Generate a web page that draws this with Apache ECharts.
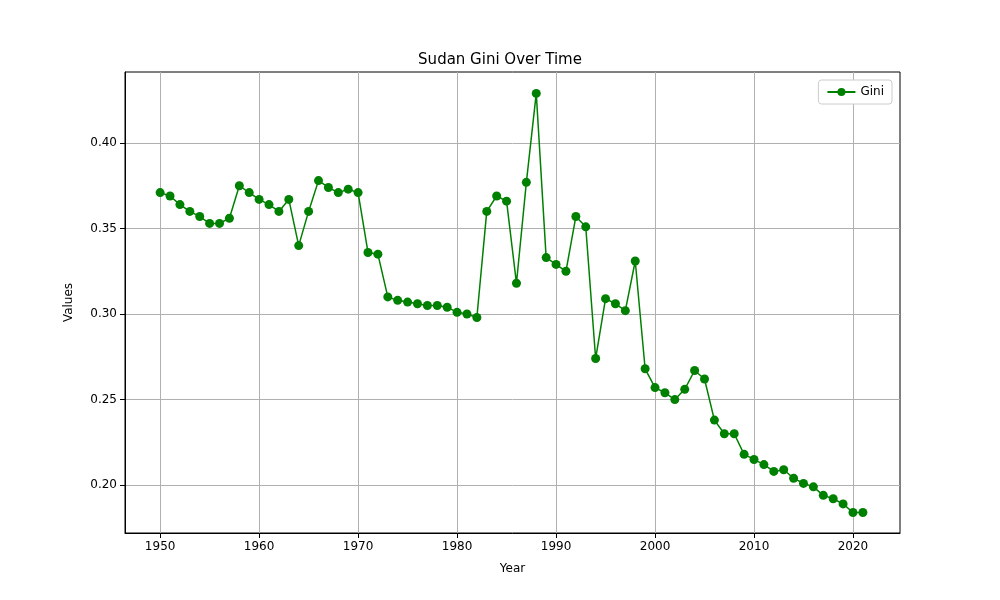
<!DOCTYPE html>
<html>
<head>
    <meta charset="utf-8"/>
    <script src="https://cdn.jsdelivr.net/npm/echarts@6/dist/echarts.min.js"></script>
    <style>
        body { margin: 0; }
        #chart { width: 1000px; height: 600px; }
    </style>
</head>
<body>
<div id="chart"></div>
<script>
    const years = [];
    for (let y = 1950; y <= 2021; y++) years.push(y);
    const gini = [
        0.371, 0.369, 0.364, 0.360, 0.357, 0.353, 0.353, 0.356, 0.375, 0.371,
        0.367, 0.364, 0.360, 0.367, 0.340, 0.360, 0.378, 0.374, 0.371, 0.373,
        0.371, 0.336, 0.335, 0.310, 0.308, 0.307, 0.306, 0.305, 0.305, 0.304,
        0.301, 0.300, 0.298, 0.360, 0.369, 0.366, 0.318, 0.377, 0.429, 0.333,
        0.329, 0.325, 0.357, 0.351, 0.274, 0.309, 0.306, 0.302, 0.331, 0.268,
        0.257, 0.254, 0.250, 0.256, 0.267, 0.262, 0.238, 0.230, 0.230, 0.218,
        0.215, 0.212, 0.208, 0.209, 0.204, 0.201, 0.199, 0.194, 0.192, 0.189,
        0.184, 0.184
    ];
    const xTicks = [1950, 1960, 1970, 1980, 1990, 2000, 2010, 2020];
    const yTicks = [0.20, 0.25, 0.30, 0.35, 0.40];

    const font = 'DejaVu Sans';
    const chart = echarts.init(document.getElementById('chart'));
    chart.setOption({
        animation: false,
        textStyle: { fontFamily: font },
        title: {
            text: 'Sudan Gini Over Time', left: 'center', top: 48,
            textStyle: { fontSize: 15, fontWeight: 'normal', color: '#000', fontFamily: font }
        },
        legend: {
            right: 108, top: 80, orient: 'vertical',
            backgroundColor: '#fff', borderColor: '#ccc', borderWidth: 1, borderRadius: 3,
            padding: [6, 8], itemWidth: 28, itemHeight: 10,
            textStyle: { fontSize: 12, color: '#000', fontFamily: font },
            data: ['Gini']
        },
        grid: { left: 125, right: 100, top: 72, bottom: 67,
            show: true, borderColor: '#000', borderWidth: 1 },
        xAxis: {
            type: 'value', min: 1946.45, max: 2024.75,
            name: 'Year', nameLocation: 'middle', nameGap: 30,
            nameTextStyle: { fontSize: 12, color: '#000' },
            axisLine: { onZero: false, lineStyle: { color: '#000' } },
            axisTick: { customValues: xTicks, lineStyle: { color: '#000' } },
            axisLabel: { customValues: xTicks, color: '#000', fontSize: 12,
                formatter: v => String(v) },
            splitLine: { show: true, lineStyle: { color: '#b0b0b0' } }
        },
        yAxis: {
            type: 'value', min: 0.172, max: 0.4415,
            name: 'Values', nameLocation: 'middle', nameGap: 50,
            nameTextStyle: { fontSize: 12, color: '#000' },
            axisLine: { show: true, lineStyle: { color: '#000' } },
            axisTick: { show: true, customValues: yTicks, lineStyle: { color: '#000' } },
            axisLabel: { customValues: yTicks, color: '#000', fontSize: 12,
                formatter: v => v.toFixed(2) },
            splitLine: { show: true, lineStyle: { color: '#b0b0b0' } }
        },
        series: [{
            name: 'Gini', type: 'line',
            data: years.map((y, i) => [y, gini[i]]),
            symbol: 'circle', symbolSize: 9,
            lineStyle: { color: 'green', width: 1.5 },
            itemStyle: { color: 'green' }
        }]
    });
</script>
</body>
</html>
